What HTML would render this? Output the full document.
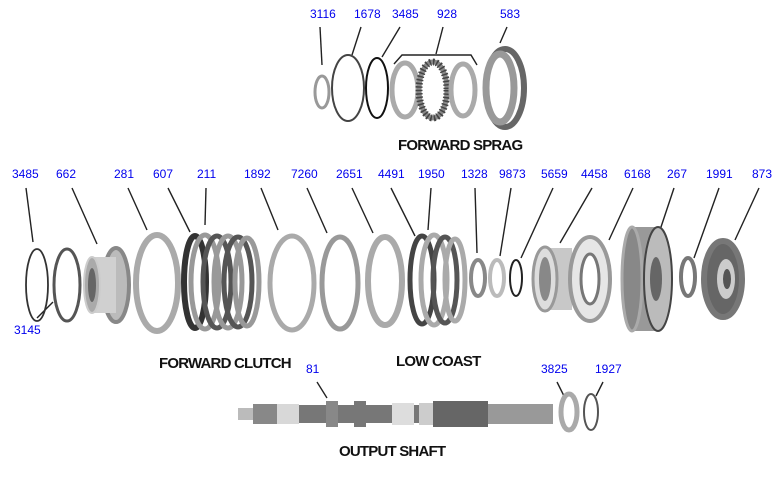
<!DOCTYPE html>
<html><head><meta charset="utf-8"><style>
html,body{margin:0;padding:0;background:#fff;}
svg{display:block}
.l{font-family:"Liberation Sans",sans-serif;font-size:12px;fill:#0000ee}
.t{font-family:"Liberation Sans",sans-serif;font-size:15px;font-weight:bold;fill:#111;letter-spacing:-0.8px}
line,polyline{stroke:#222;stroke-width:1.4;fill:none}
</style></head><body>
<svg width="780" height="486" viewBox="0 0 780 486" xmlns="http://www.w3.org/2000/svg">
<text class="l" x="310" y="18">3116</text>
<text class="l" x="354" y="18">1678</text>
<text class="l" x="392" y="18">3485</text>
<text class="l" x="437" y="18">928</text>
<text class="l" x="500" y="18">583</text>
<line x1="320" y1="27" x2="322" y2="65"/>
<line x1="361" y1="27" x2="352" y2="55"/>
<line x1="400" y1="27" x2="382" y2="57"/>
<line x1="443" y1="27" x2="436" y2="54"/>
<line x1="507" y1="27" x2="500" y2="43"/>
<polyline points="394,64 402,55 471,55 477,65"/>
<ellipse cx="322" cy="92" rx="7" ry="16" fill="none" stroke="#999" stroke-width="3"/>
<ellipse cx="348" cy="88" rx="16" ry="33" fill="none" stroke="#444" stroke-width="2"/>
<ellipse cx="377" cy="88" rx="11" ry="30" fill="none" stroke="#111" stroke-width="2"/>
<ellipse cx="405" cy="90" rx="13" ry="27" fill="none" stroke="#aaa" stroke-width="5"/>
<ellipse cx="433" cy="90" rx="14" ry="28" fill="none" stroke="#888" stroke-width="5"/>
<ellipse cx="433" cy="90" rx="14" ry="28" fill="none" stroke="#444" stroke-width="7" stroke-dasharray="1.5 2"/>
<ellipse cx="463" cy="90" rx="12" ry="26" fill="none" stroke="#aaa" stroke-width="5"/>
<ellipse cx="505" cy="88" rx="19" ry="39" fill="none" stroke="#666" stroke-width="6"/>
<ellipse cx="500" cy="88" rx="14" ry="34" fill="none" stroke="#999" stroke-width="7"/>
<text class="t" x="398" y="150">FORWARD SPRAG</text>

<text class="l" x="12" y="178">3485</text>
<text class="l" x="56" y="178">662</text>
<text class="l" x="114" y="178">281</text>
<text class="l" x="153" y="178">607</text>
<text class="l" x="197" y="178">211</text>
<text class="l" x="244" y="178">1892</text>
<text class="l" x="291" y="178">7260</text>
<text class="l" x="336" y="178">2651</text>
<text class="l" x="378" y="178">4491</text>
<text class="l" x="418" y="178">1950</text>
<text class="l" x="461" y="178">1328</text>
<text class="l" x="499" y="178">9873</text>
<text class="l" x="541" y="178">5659</text>
<text class="l" x="581" y="178">4458</text>
<text class="l" x="624" y="178">6168</text>
<text class="l" x="667" y="178">267</text>
<text class="l" x="706" y="178">1991</text>
<text class="l" x="752" y="178">873</text>
<text class="l" x="14" y="334">3145</text>
<line x1="26" y1="188" x2="33" y2="242"/>
<line x1="72" y1="188" x2="97" y2="244"/>
<line x1="128" y1="188" x2="147" y2="230"/>
<line x1="168" y1="188" x2="190" y2="232"/>
<line x1="206" y1="188" x2="205" y2="225"/>
<line x1="261" y1="188" x2="278" y2="230"/>
<line x1="307" y1="188" x2="327" y2="233"/>
<line x1="352" y1="188" x2="373" y2="233"/>
<line x1="391" y1="188" x2="415" y2="236"/>
<line x1="431" y1="188" x2="428" y2="230"/>
<line x1="475" y1="188" x2="477" y2="253"/>
<line x1="511" y1="188" x2="500" y2="256"/>
<line x1="553" y1="188" x2="521" y2="258"/>
<line x1="592" y1="188" x2="560" y2="243"/>
<line x1="633" y1="188" x2="609" y2="240"/>
<line x1="674" y1="188" x2="660" y2="230"/>
<line x1="719" y1="188" x2="694" y2="258"/>
<line x1="759" y1="188" x2="735" y2="240"/>
<line x1="37" y1="318" x2="53" y2="302"/>

<ellipse cx="37" cy="285" rx="11" ry="36" fill="none" stroke="#333" stroke-width="1.8"/>
<ellipse cx="67" cy="285" rx="13" ry="36" fill="none" stroke="#555" stroke-width="3"/>
<ellipse cx="116" cy="285" rx="13" ry="37" fill="#bbb" stroke="#888" stroke-width="4"/>
<rect x="92" y="257" width="24" height="56" fill="#d0d0d0"/>
<ellipse cx="92" cy="285" rx="8" ry="28" fill="#aaa" stroke="#ccc" stroke-width="2"/>
<ellipse cx="92" cy="285" rx="4" ry="17" fill="#666"/>
<ellipse cx="157" cy="283" rx="21" ry="48" fill="none" stroke="#aaa" stroke-width="6"/>
<ellipse cx="195" cy="282" rx="11" ry="46" fill="none" stroke="#333" stroke-width="6"/>
<ellipse cx="205" cy="282" rx="14" ry="47" fill="none" stroke="#999" stroke-width="5"/>
<ellipse cx="217" cy="282" rx="14" ry="46" fill="none" stroke="#555" stroke-width="5"/>
<ellipse cx="228" cy="282" rx="14" ry="46" fill="none" stroke="#999" stroke-width="5"/>
<ellipse cx="238" cy="282" rx="14" ry="45" fill="none" stroke="#555" stroke-width="5"/>
<ellipse cx="247" cy="282" rx="12" ry="44" fill="none" stroke="#999" stroke-width="5"/>
<ellipse cx="292" cy="283" rx="22" ry="47" fill="none" stroke="#aaa" stroke-width="5"/>
<ellipse cx="340" cy="283" rx="18" ry="46" fill="none" stroke="#999" stroke-width="5"/>
<ellipse cx="385" cy="281" rx="17" ry="44" fill="none" stroke="#aaa" stroke-width="6"/>
<ellipse cx="422" cy="280" rx="12" ry="44" fill="none" stroke="#444" stroke-width="5"/>
<ellipse cx="434" cy="280" rx="13" ry="45" fill="none" stroke="#aaa" stroke-width="5"/>
<ellipse cx="445" cy="280" rx="12" ry="43" fill="none" stroke="#555" stroke-width="5"/>
<ellipse cx="455" cy="280" rx="10" ry="41" fill="none" stroke="#aaa" stroke-width="5"/>
<ellipse cx="478" cy="278" rx="7" ry="18" fill="none" stroke="#888" stroke-width="4"/>
<ellipse cx="497" cy="278" rx="7" ry="18" fill="none" stroke="#bbb" stroke-width="4"/>
<ellipse cx="516" cy="278" rx="6" ry="18" fill="none" stroke="#222" stroke-width="2"/>
<rect x="545" y="248" width="27" height="62" fill="#c8c8c8"/>
<ellipse cx="545" cy="279" rx="12" ry="32" fill="#ddd" stroke="#999" stroke-width="3"/>
<ellipse cx="545" cy="279" rx="6" ry="22" fill="#888"/>
<ellipse cx="590" cy="279" rx="20" ry="42" fill="#e6e6e6" stroke="#999" stroke-width="4"/>
<ellipse cx="590" cy="279" rx="9" ry="25" fill="#fff" stroke="#777" stroke-width="3"/>
<rect x="632" y="227" width="26" height="104" fill="#999"/>
<ellipse cx="632" cy="279" rx="10" ry="52" fill="#888" stroke="#aaa" stroke-width="3"/>
<ellipse cx="658" cy="279" rx="14" ry="52" fill="#bbb" stroke="#444" stroke-width="2"/>
<ellipse cx="656" cy="279" rx="6" ry="22" fill="#666"/>
<ellipse cx="688" cy="277" rx="7" ry="19" fill="none" stroke="#777" stroke-width="4"/>
<ellipse cx="723" cy="279" rx="19" ry="38" fill="#666" stroke="#777" stroke-width="6"/>
<ellipse cx="726" cy="279" rx="9" ry="20" fill="#ccc"/>
<ellipse cx="727" cy="279" rx="4" ry="10" fill="#555"/>

<text class="t" x="159" y="368">FORWARD CLUTCH</text>
<text class="t" x="396" y="366">LOW COAST</text>

<text class="l" x="306" y="373">81</text>
<text class="l" x="541" y="373">3825</text>
<text class="l" x="595" y="373">1927</text>
<line x1="317" y1="382" x2="327" y2="398"/>
<line x1="557" y1="382" x2="564" y2="396"/>
<line x1="603" y1="382" x2="596" y2="396"/>
<rect x="238" y="408" width="16" height="12" fill="#bbb"/>
<rect x="253" y="404" width="24" height="20" fill="#888"/>
<rect x="277" y="404" width="22" height="20" fill="#d8d8d8"/>
<rect x="299" y="405" width="120" height="18" fill="#777"/>
<rect x="326" y="401" width="12" height="26" fill="#888"/>
<rect x="354" y="401" width="12" height="26" fill="#777"/>
<rect x="392" y="403" width="22" height="22" fill="#ddd"/>
<rect x="419" y="403" width="14" height="22" fill="#ccc"/>
<rect x="433" y="401" width="55" height="26" fill="#666"/>
<rect x="488" y="404" width="65" height="20" fill="#999"/>
<ellipse cx="569" cy="412" rx="8" ry="18" fill="none" stroke="#aaa" stroke-width="5"/>
<ellipse cx="591" cy="412" rx="7" ry="18" fill="none" stroke="#555" stroke-width="2"/>
<text class="t" x="339" y="456">OUTPUT SHAFT</text>
</svg>
</body></html>
